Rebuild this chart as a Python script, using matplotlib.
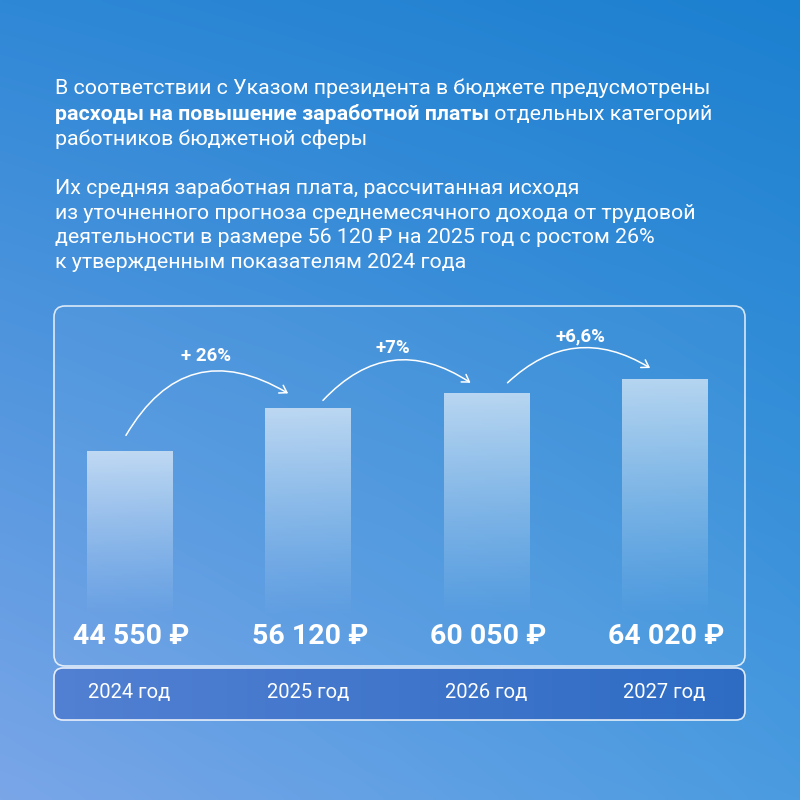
import numpy as np
import matplotlib
matplotlib.use("Agg")
import matplotlib.pyplot as plt
from matplotlib.patches import FancyBboxPatch, FancyArrowPatch

# ---- data ----
years = ["2024 год", "2025 год", "2026 год", "2027 год"]
values = [44550, 56120, 60050, 64020]
value_labels = ["44 550 ₽", "56 120 ₽", "60 050 ₽", "64 020 ₽"]
growth_labels = ["+ 26%", "+7%", "+6,6%"]

para1_line1 = "В соответствии с Указом президента в бюджете предусмотрены"
para1_bold = "расходы на повышение заработной платы"
para1_rest = " отдельных категорий"
para1_line3 = "работников бюджетной сферы"
para2 = ["Их средняя заработная плата, рассчитанная исходя",
         "из уточненного прогноза среднемесячного дохода от трудовой",
         "деятельности в размере 56 120 ₽ на 2025 год с ростом 26%",
         "к утвержденным показателям 2024 года"]

FONT = ["Roboto", "DejaVu Sans"]
plt.rcParams["font.family"] = FONT

fig = plt.figure(figsize=(8, 8), dpi=100)

# ---- background ----
bg = fig.add_axes([0, 0, 1, 1])
bg.set_xlim(0, 800)
bg.set_ylim(800, 0)
bg.axis("off")
tl = np.array([47, 136, 214]) / 255
tr = np.array([28, 128, 208]) / 255
bl = np.array([122, 166, 232]) / 255
br = np.array([74, 155, 224]) / 255
n = 200
u = np.linspace(0, 1, n)[None, :, None]
v = np.linspace(0, 1, n)[:, None, None]
grad = (1 - u) * (1 - v) * tl + u * (1 - v) * tr + (1 - u) * v * bl + u * v * br
bg.imshow(grad, extent=[0, 800, 800, 0], aspect="auto", interpolation="bilinear", zorder=0)

# top panel
panel = FancyBboxPatch((54, 306), 691, 360, boxstyle="round,pad=0,rounding_size=11",
                       fc=(1, 1, 1, 0.04), ec=(1, 1, 1, 0.8), lw=1.2, zorder=1)
bg.add_patch(panel)
# bottom year box with gradient
ybox = FancyBboxPatch((54, 668), 691, 52, boxstyle="round,pad=0,rounding_size=9",
                      fc="none", ec=(1, 1, 1, 0.85), lw=1.2, zorder=3)
bg.add_patch(ybox)
left_c = np.array([82, 128, 210]) / 255
right_c = np.array([46, 108, 196]) / 255
uu = np.linspace(0, 1, 200)[None, :, None]
box_grad = np.repeat((1 - uu) * left_c + uu * right_c, 10, axis=0)
im = bg.imshow(box_grad, extent=[54, 745, 720, 668], aspect="auto", zorder=2)
im.set_clip_path(ybox)
bg.set_xlim(0, 800)
bg.set_ylim(800, 0)

# ---- text block ----
fs_text = 15.4
bg.text(55, 94, para1_line1, fontsize=fs_text, color="white", va="baseline", ha="left")
t_b = bg.text(55, 120, para1_bold, fontsize=fs_text, color="white", fontweight="bold",
              va="baseline", ha="left")
bg.annotate(para1_rest, xy=(1, 0), xycoords=t_b, va="bottom", ha="left",
            fontsize=fs_text, color="white")
bg.text(55, 145, para1_line3, fontsize=fs_text, color="white", va="baseline", ha="left")
for i, line in enumerate(para2):
    bg.text(55, 194 + i * 24.7, line, fontsize=fs_text, color="white", va="baseline", ha="left")

# ---- bar axes ----
ax = fig.add_axes([55 / 800, 1 - 720 / 800, 690 / 800, (720 - 306) / 800])
ax.axis("off")
ax.patch.set_alpha(0)
x = np.arange(len(values))
bars = ax.bar(x, values, width=0.477, color="none", edgecolor="none")
g = np.linspace(0, 1, 256) ** 1.1
for rect in bars:
    rx, ry, w, h = rect.get_x(), rect.get_y(), rect.get_width(), rect.get_height()
    img = np.zeros((256, 1, 4))
    img[..., :3] = 1.0
    img[:, 0, 3] = 0.62 * g
    ax.imshow(img, extent=[rx, rx + w, ry, ry + h], origin="lower", aspect="auto",
              interpolation="bilinear", zorder=2)

px_x = 178.3
px_y = 0.003717
ax.set_xlim(-74.5 / px_x, -74.5 / px_x + 690 / px_x)
ax.set_ylim(-103 / px_y, 311 / px_y)

# value labels
for xi, lab in zip(x, value_labels):
    ax.annotate(lab, xy=(xi, 0), xytext=(1.5, -14), textcoords="offset points",
                ha="center", va="center", fontsize=20.5, fontweight="bold", color="white",
                family=FONT, zorder=4)

# year labels
for xi, lab in zip(x, years):
    ax.annotate(lab, xy=(xi, 0), xytext=(0, -54.5), textcoords="offset points",
                ha="center", va="center", fontsize=14.5, color="white", zorder=4)

# growth arrows
starts = [(-0.02, 16), (0.085, 8), (0.12, 11)]
ends = [(-0.11, 15), (-0.087, 11), (-0.08, 11)]
rads = [-0.5, -0.42, -0.38]
lab_off = [(-9, 38), (-3, 33), (4, 31)]
for i in range(len(values) - 1):
    sx = x[i] + starts[i][0]
    sy = values[i] + starts[i][1] / px_y
    ex = x[i + 1] + ends[i][0]
    ey = values[i + 1] + ends[i][1] / px_y
    arr = FancyArrowPatch((sx, sy), (ex, ey), connectionstyle=f"arc3,rad={rads[i]}",
                          arrowstyle="->,head_length=5,head_width=3.2", color="white",
                          lw=1.1, zorder=5, shrinkA=0, shrinkB=0)
    ax.add_patch(arr)
    midx = (x[i] + x[i + 1]) / 2
    ax.annotate(growth_labels[i], xy=(midx, values[i + 1]), xytext=lab_off[i],
                textcoords="offset points", ha="center", va="center",
                fontsize=13.5, fontweight="bold", color="white", zorder=5)

fig.savefig("out.png", dpi=100)
